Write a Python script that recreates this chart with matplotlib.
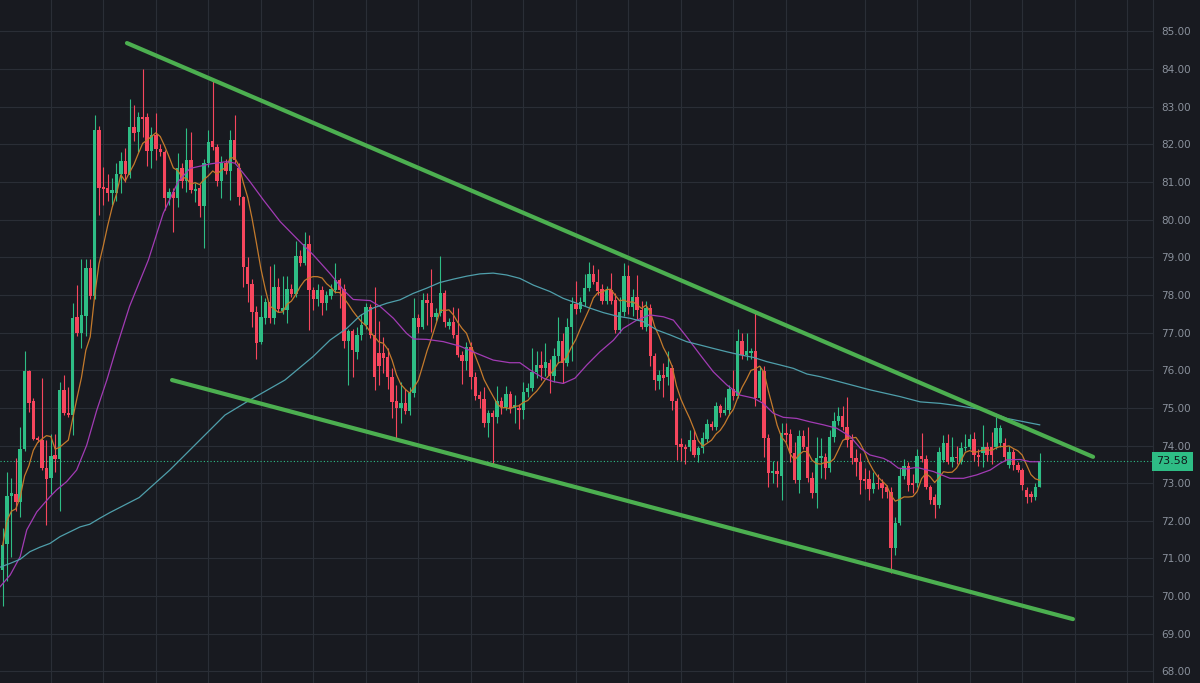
import numpy as np
import pandas as pd
import matplotlib
matplotlib.use('Agg')
import matplotlib.pyplot as plt
import matplotlib.transforms as mtransforms

cols = {}
cols['bg'] = '#181a20'
cols['grid'] = '#2a2e36'
cols['up'] = '#2ebd85'
cols['down'] = '#f6465d'
cols['text'] = '#8a919c'
cols['ma_fast'] = '#c47a2c'
cols['ma_mid'] = '#a23bb4'
cols['ma_slow'] = '#4f9fab'
cols['trend'] = '#4caf50'

# OHLC per candle
opens = [
    70.70, 71.38, 72.65, 72.72, 72.50, 73.90, 75.98, 75.18, 74.20, 74.15,
    73.40, 73.13, 73.75, 73.64, 75.48, 74.87, 74.82, 77.42, 77.00, 77.43,
    78.71, 77.98, 82.37, 80.87, 80.85, 80.71, 80.71, 81.22, 81.57, 81.19,
    82.47, 82.34, 82.73, 82.72, 81.83, 82.25, 81.88, 81.79, 80.57, 80.73,
    80.57, 81.36, 81.03, 81.58, 80.76, 80.83, 80.37, 81.50, 82.09, 81.92,
    81.03, 81.50, 81.30, 82.12, 81.36, 80.60, 78.73, 78.29, 77.56, 76.74,
    77.40, 77.82, 77.38, 78.22, 77.58, 77.60, 78.15, 78.02, 79.04, 78.84,
    79.35, 78.13, 77.88, 78.13, 77.78, 77.97, 78.13, 78.40, 78.15, 76.78,
    77.03, 76.49, 76.94, 77.20, 77.69, 76.94, 76.45, 76.45, 76.36, 75.83,
    75.18, 74.99, 75.14, 74.93, 75.39, 77.38, 77.16, 77.87, 77.78, 77.41,
    77.53, 78.06, 77.18, 77.29, 76.94, 76.41, 76.25, 76.63, 75.83, 75.34,
    75.23, 74.61, 74.86, 74.77, 75.19, 75.03, 75.37, 74.99, 75.00, 74.94,
    75.43, 75.52, 75.96, 76.14, 76.05, 76.20, 75.85, 76.38, 76.79, 76.20,
    77.14, 77.75, 77.62, 77.82, 78.19, 78.56, 78.35, 78.15, 77.85, 78.13,
    77.87, 77.07, 77.56, 78.49, 77.67, 77.95, 77.60, 77.16, 77.65, 76.38,
    75.72, 75.87, 75.81, 76.07, 75.19, 74.04, 73.95, 73.95, 74.15, 73.75,
    73.93, 74.17, 74.57, 74.50, 75.04, 74.86, 74.95, 75.49, 75.32, 76.77,
    76.41, 76.46, 76.52, 75.26, 75.98, 74.19, 73.26, 73.33, 73.19, 74.32,
    74.30, 73.81, 73.08, 74.25, 73.97, 73.13, 72.73, 73.66, 73.70, 73.40,
    74.22, 74.65, 74.79, 74.50, 74.15, 73.68, 73.57, 73.12, 73.10, 72.84,
    73.01, 73.00, 72.89, 72.77, 71.27, 71.94, 73.19, 73.45, 73.00, 73.01,
    73.71, 73.64, 72.91, 72.64, 72.42, 73.62, 74.06, 73.57, 73.70, 73.57,
    73.93, 73.97, 74.17, 73.75, 73.79, 73.97, 73.97, 73.97, 74.06, 74.06,
    73.48, 73.84, 73.48, 73.35, 72.82, 72.70, 72.64, 72.91,
]
highs = [
    71.80, 73.30, 73.15, 73.67, 74.50, 76.50, 76.00, 75.25, 74.25, 75.80,
    74.15, 74.30, 74.30, 75.70, 75.87, 75.56, 77.79, 78.26, 78.95, 78.95,
    78.95, 82.77, 82.50, 81.40, 81.20, 81.10, 81.50, 81.80, 81.90, 83.20,
    83.05, 82.87, 84.00, 82.83, 82.46, 82.83, 82.00, 81.85, 80.85, 80.83,
    81.76, 81.50, 82.43, 82.34, 80.98, 80.95, 81.60, 82.38, 83.73, 82.00,
    81.70, 81.60, 82.38, 82.78, 81.50, 80.62, 79.00, 78.42, 77.70, 78.00,
    77.92, 78.77, 78.82, 78.45, 78.50, 78.49, 78.30, 79.44, 79.20, 79.68,
    79.60, 78.20, 78.30, 78.25, 78.10, 78.30, 78.86, 78.45, 78.30, 77.10,
    77.10, 77.15, 77.50, 77.78, 77.75, 78.20, 77.30, 76.89, 76.60, 76.07,
    75.60, 75.70, 75.50, 75.55, 77.91, 77.50, 78.04, 78.05, 78.68, 77.65,
    79.04, 78.13, 77.40, 77.69, 77.65, 76.50, 76.75, 76.75, 75.95, 75.45,
    75.55, 74.95, 74.95, 75.59, 75.30, 75.58, 75.45, 75.35, 75.10, 75.70,
    75.65, 76.58, 76.50, 76.50, 76.73, 76.30, 76.58, 77.42, 77.00, 77.38,
    77.95, 78.38, 77.95, 78.56, 78.87, 78.80, 78.70, 78.30, 78.25, 78.59,
    78.05, 77.95, 78.86, 78.80, 78.15, 78.53, 77.85, 77.85, 77.75, 76.45,
    76.00, 76.20, 76.50, 76.15, 75.25, 74.20, 74.05, 74.40, 74.40, 74.00,
    74.35, 74.70, 74.65, 75.15, 75.10, 75.30, 75.60, 76.00, 77.09, 77.00,
    76.99, 76.60, 77.51, 76.10, 76.10, 74.30, 73.60, 73.60, 74.59, 74.60,
    74.45, 74.10, 74.40, 74.40, 74.50, 73.30, 74.24, 74.20, 73.80, 74.40,
    74.89, 75.03, 75.05, 75.30, 74.30, 73.90, 73.80, 73.40, 73.35, 73.30,
    73.25, 73.10, 72.95, 72.90, 72.10, 73.40, 73.65, 73.55, 73.25, 73.90,
    74.33, 73.75, 72.95, 72.70, 73.97, 74.28, 74.30, 74.24, 74.00, 74.10,
    74.30, 74.30, 74.37, 73.90, 74.55, 74.10, 74.37, 74.77, 74.55, 74.20,
    74.00, 73.90, 73.55, 73.40, 72.90, 72.80, 73.00, 73.79,
]
lows = [
    69.75, 70.40, 71.05, 72.25, 72.10, 73.85, 74.90, 74.15, 74.10, 73.35,
    71.90, 72.70, 73.30, 72.25, 74.80, 74.75, 74.28, 76.90, 76.60, 76.90,
    77.90, 77.90, 80.12, 80.40, 80.50, 80.40, 80.50, 80.70, 81.00, 81.10,
    82.10, 81.80, 82.20, 81.43, 81.37, 81.58, 81.70, 80.26, 80.40, 79.68,
    80.34, 80.85, 80.74, 80.70, 80.46, 80.08, 79.24, 81.40, 81.85, 80.90,
    80.58, 81.20, 80.52, 81.50, 80.39, 78.22, 77.80, 77.16, 76.30, 76.70,
    77.23, 77.25, 77.23, 77.55, 77.50, 77.25, 77.95, 77.95, 78.78, 78.80,
    77.07, 77.60, 77.70, 77.47, 77.60, 77.90, 78.05, 77.65, 76.60, 75.60,
    75.83, 76.30, 76.80, 77.10, 76.85, 75.48, 75.60, 75.93, 75.50, 74.72,
    74.15, 74.60, 74.85, 74.80, 75.30, 77.00, 77.10, 77.20, 77.02, 77.30,
    77.45, 77.16, 77.10, 76.85, 76.35, 75.63, 76.00, 75.50, 75.20, 75.00,
    74.50, 74.24, 73.45, 74.60, 74.85, 74.95, 74.86, 74.60, 74.45, 74.70,
    75.30, 75.45, 75.80, 75.75, 75.85, 75.39, 75.70, 76.20, 75.65, 76.10,
    76.25, 77.50, 77.55, 77.70, 78.10, 78.30, 78.00, 77.75, 77.75, 77.75,
    77.00, 77.00, 77.45, 77.50, 77.45, 77.35, 77.10, 77.05, 76.10, 75.48,
    75.50, 75.30, 75.60, 74.95, 73.62, 73.60, 73.50, 73.85, 73.70, 73.55,
    73.80, 74.10, 74.40, 74.40, 74.75, 74.80, 74.80, 75.20, 75.25, 76.30,
    76.27, 76.30, 75.05, 75.20, 73.70, 72.91, 73.00, 72.90, 72.55, 74.10,
    73.55, 73.00, 72.73, 73.90, 73.03, 72.60, 72.34, 73.15, 73.10, 73.30,
    74.10, 74.55, 74.40, 73.95, 73.50, 73.20, 72.70, 72.85, 72.55, 72.75,
    72.85, 72.60, 72.60, 70.61, 71.10, 71.90, 73.10, 72.80, 72.75, 72.90,
    73.55, 72.85, 72.45, 72.07, 72.33, 73.55, 73.50, 73.44, 73.50, 73.50,
    73.85, 73.90, 73.60, 73.45, 73.44, 73.60, 73.50, 73.90, 73.95, 73.60,
    73.40, 73.35, 73.30, 72.82, 72.47, 72.50, 72.55, 72.90,
]
closes = [
    71.35, 72.67, 72.75, 72.50, 73.90, 75.98, 75.14, 74.17, 74.15, 73.40,
    73.10, 73.73, 73.64, 75.48, 74.86, 74.81, 77.40, 76.98, 77.47, 78.71,
    77.98, 82.37, 80.85, 80.82, 80.71, 80.80, 81.22, 81.57, 81.20, 82.47,
    82.31, 82.73, 82.68, 81.83, 82.25, 81.87, 81.79, 80.57, 80.73, 80.57,
    81.36, 81.03, 81.58, 80.79, 80.82, 80.37, 81.50, 82.07, 81.92, 81.03,
    81.50, 81.30, 82.12, 81.58, 80.60, 78.73, 78.29, 77.56, 76.73, 77.42,
    77.82, 77.38, 78.22, 77.62, 77.66, 78.15, 78.02, 79.04, 78.84, 79.35,
    78.13, 77.88, 78.13, 77.78, 78.00, 78.15, 78.40, 78.13, 76.78, 77.03,
    76.54, 76.94, 77.20, 77.69, 76.94, 75.83, 76.10, 76.32, 75.83, 75.16,
    74.99, 75.14, 74.93, 75.39, 77.38, 77.16, 77.87, 77.78, 77.41, 77.53,
    78.06, 77.29, 77.29, 76.94, 76.41, 76.25, 76.63, 75.83, 75.32, 75.23,
    74.61, 74.86, 74.77, 75.19, 75.03, 75.37, 74.99, 75.08, 74.95, 75.43,
    75.52, 75.96, 76.14, 76.05, 76.22, 75.85, 76.38, 76.79, 76.20, 77.14,
    77.75, 77.62, 77.82, 78.19, 78.56, 78.35, 78.11, 77.85, 78.13, 77.85,
    77.07, 77.56, 78.49, 77.67, 77.95, 77.60, 77.16, 77.65, 76.38, 75.74,
    75.87, 75.80, 76.08, 75.19, 74.01, 73.95, 73.90, 74.15, 73.75, 73.93,
    74.19, 74.57, 74.50, 75.04, 74.86, 74.95, 75.49, 75.32, 76.77, 76.41,
    76.50, 76.52, 75.26, 75.98, 74.19, 73.26, 73.33, 73.24, 74.32, 74.28,
    73.79, 73.08, 74.25, 73.97, 73.13, 72.75, 73.66, 73.72, 73.40, 74.22,
    74.65, 74.79, 74.50, 74.15, 73.66, 73.55, 73.08, 73.07, 72.84, 73.01,
    72.97, 72.86, 72.77, 71.27, 71.94, 73.19, 73.45, 72.95, 72.95, 73.71,
    73.64, 72.91, 72.55, 72.42, 73.84, 74.06, 73.57, 73.70, 73.66, 73.93,
    73.97, 74.17, 73.75, 73.70, 73.97, 73.75, 73.75, 74.46, 74.46, 73.70,
    73.84, 73.48, 73.35, 72.95, 72.64, 72.64, 72.91, 73.58,
]

# slower averages: (candle index, price)
ma_mid = [
    (-0.6, 70.25), (1.7, 70.56), (4.0, 71.05), (5.5, 71.76), (7.8, 72.24),
    (10.8, 72.64), (12.3, 72.82), (14.6, 73.04), (16.9, 73.35), (19.2, 74.01),
    (21.5, 74.94), (23.8, 75.74), (26.0, 76.60), (29.0, 77.70), (33.3, 78.93),
    (36.7, 80.17), (40.1, 81.01), (42.8, 81.36), (45.1, 81.42), (47.4, 81.48),
    (51.2, 81.54), (53.1, 81.50), (55.0, 81.23), (56.5, 81.01), (59.6, 80.52),
    (63.4, 79.95), (67.2, 79.50), (71.0, 79.06), (74.8, 78.57), (77.9, 78.13),
    (80.1, 77.88), (84.0, 77.85), (86.3, 77.69), (89.3, 77.38), (92.3, 76.98),
    (93.9, 76.83), (96.9, 76.82), (100.7, 76.76), (104.5, 76.64), (108.3, 76.45),
    (112.1, 76.27), (115.9, 76.20), (118.2, 76.20), (120.5, 76.01), (123.6, 75.79),
    (125.8, 75.70), (128.1, 75.65), (130.8, 75.79), (133.5, 76.14), (136.5, 76.49),
    (139.6, 76.80), (141.8, 77.11), (144.9, 77.33), (147.9, 77.47), (151.0, 77.42),
    (153.3, 77.33), (156.3, 76.89), (159.4, 76.41), (162.4, 75.96), (165.5, 75.61),
    (168.5, 75.34), (171.6, 75.26), (173.8, 75.12), (176.1, 74.86), (178.4, 74.75),
    (181.5, 74.72), (184.5, 74.63), (187.6, 74.55), (190.6, 74.46), (193.7, 74.24),
    (196.0, 73.93), (198.2, 73.75), (201.3, 73.66), (202.8, 73.57), (204.7, 73.40),
    (206.6, 73.38), (208.9, 73.42), (212.7, 73.31), (216.5, 73.13), (219.6, 73.13),
    (222.6, 73.22), (225.7, 73.35), (228.0, 73.53), (229.5, 73.62), (232.5, 73.63),
    (234.8, 73.57), (237.0, 73.57),
]
ma_slow = [
    (-0.6, 70.77), (1.7, 70.87), (4.0, 70.98), (6.2, 71.18), (8.5, 71.30),
    (10.8, 71.40), (13.1, 71.58), (15.4, 71.71), (17.7, 71.84), (19.9, 71.91),
    (22.2, 72.07), (24.5, 72.22), (31.2, 72.62), (38.2, 73.35), (45.1, 74.15),
    (50.8, 74.81), (56.5, 75.21), (64.5, 75.74), (70.9, 76.36), (74.8, 76.80),
    (78.6, 77.11), (81.7, 77.45), (84.6, 77.65), (87.8, 77.78), (90.8, 77.87),
    (93.8, 78.04), (96.9, 78.18), (99.9, 78.33), (103.0, 78.42), (106.1, 78.50),
    (109.1, 78.56), (112.1, 78.58), (115.2, 78.53), (118.2, 78.44), (121.3, 78.26),
    (125.1, 78.09), (128.1, 77.91), (131.2, 77.78), (134.2, 77.65), (137.3, 77.53),
    (140.3, 77.44), (143.4, 77.38), (146.4, 77.29), (149.5, 77.07), (152.5, 76.94),
    (156.3, 76.76), (159.4, 76.67), (162.4, 76.58), (165.5, 76.49), (168.5, 76.41),
    (171.6, 76.34), (174.6, 76.23), (177.7, 76.14), (180.7, 76.05), (183.8, 75.90),
    (186.8, 75.83), (198.2, 75.48), (205.1, 75.30), (209.7, 75.16), (214.3, 75.12),
    (218.8, 75.05), (223.4, 74.96), (226.4, 74.86), (229.5, 74.72), (237.0, 74.55),
]

# trend line anchors: (candle index, price)
trend_upper = [(28.4, 84.69), (249.2, 73.70)]
trend_lower = [(38.7, 75.74), (244.6, 69.39)]

price_ticks = list(range(68, 86))
grid_idx = [11 + 12 * k for k in range(15)] + [197, 209, 221, 233, 245, 257]


o = np.array(opens)
h = np.array(highs)
l = np.array(lows)
c = np.array(closes)
x = np.arange(len(c))
cc = np.where(c >= o, cols['up'], cols['down'])

fig = plt.figure(figsize=(12, 6.83), dpi=100, facecolor=cols['bg'])
ax = fig.add_axes([0, 0, 1153 / 1200, 1])
ax.set_facecolor(cols['bg'])

ax.vlines(x, l, h, colors=cc, lw=0.8, zorder=2)
ax.bar(x, np.maximum(np.abs(c - o), 0.03), bottom=np.minimum(o, c), width=0.78,
       color=cc, lw=0, zorder=3)

fast = pd.Series(c).rolling(7, min_periods=1).mean()
ax.plot(x, fast, color=cols['ma_fast'], lw=0.9, zorder=4)
mx, my = zip(*ma_mid)
ax.plot(mx, my, color=cols['ma_mid'], lw=0.9, zorder=4)
sx, sy = zip(*ma_slow)
ax.plot(sx, sy, color=cols['ma_slow'], lw=0.9, zorder=4)

for tl in (trend_upper, trend_lower):
    tx, ty = zip(*tl)
    ax.plot(tx, ty, color=cols['trend'], lw=3.0, solid_capstyle='round', zorder=5)

# last price line + tag
last = closes[-1]
ax.axhline(last, color=cols['up'], lw=0.8, ls=(0, (1, 2)), zorder=1)
trans = mtransforms.blended_transform_factory(ax.transAxes, ax.transData)
ax.text(1.003, last, f'{last:.2f}', transform=trans, ha='left', va='center',
        fontsize=8, color='#10161a', clip_on=False, zorder=10,
        bbox=dict(boxstyle='square,pad=0.4', fc=cols['up'], ec='none'))

ax.set_xlim(-0.617, 262.9)
ax.set_ylim(67.693, 85.834)
ax.set_xticks(grid_idx)
ax.set_yticks(price_ticks)
ax.set_yticklabels([f'{p:.2f}' for p in price_ticks])
ax.yaxis.tick_right()
ax.tick_params(axis='y', length=0, pad=6, labelsize=7.5, labelcolor=cols['text'])
ax.tick_params(axis='x', length=0, labelbottom=False)
ax.grid(True, color=cols['grid'], lw=0.8, zorder=0)
ax.set_axisbelow(True)
for s in ['top', 'left', 'bottom']:
    ax.spines[s].set_visible(False)
ax.spines['right'].set_color(cols['grid'])
ax.spines['right'].set_linewidth(0.8)

fig.savefig('out.png', dpi=100, facecolor=cols['bg'])
